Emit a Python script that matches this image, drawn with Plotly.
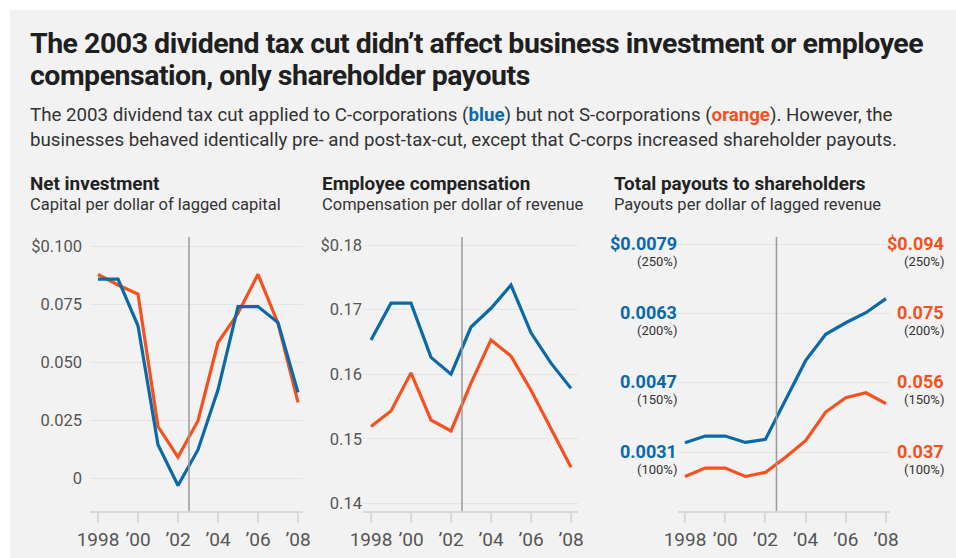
import plotly.graph_objects as go

# ---- data -------------------------------------------------------------
years = list(range(1998, 2009))
x_tickvals = [1998, 2000, 2002, 2004, 2006, 2008]
x_ticktext = ["1998", "\u201900", "\u201902", "\u201904", "\u201906", "\u201908"]

# Net investment, capital per dollar of lagged capital
invest_c = [0.0857, 0.0857, 0.0656, 0.0143, -0.0032, 0.0122, 0.0380, 0.0739, 0.0739, 0.0670, 0.0369]
invest_s = [0.0878, 0.0832, 0.0793, 0.0222, 0.0090, 0.0247, 0.0584, 0.0710, 0.0878, 0.0667, 0.0326]
invest_tickvals = [0, 0.025, 0.05, 0.075, 0.1]
invest_ticktext = ["0", "0.025", "0.050", "0.075", "$0.100"]

# Employee compensation per dollar of revenue
comp_c = [0.1653, 0.1710, 0.1710, 0.1626, 0.1600, 0.1673, 0.1702, 0.1738, 0.1664, 0.1617, 0.1578]
comp_s = [0.1519, 0.1543, 0.1602, 0.1529, 0.1512, 0.1586, 0.1653, 0.1628, 0.1575, 0.1516, 0.1456]
comp_tickvals = [0.14, 0.15, 0.16, 0.17, 0.18]
comp_ticktext = ["0.14", "0.15", "0.16", "0.17", "$0.18"]

# Total payouts to shareholders, indexed (percent of base level)
payout_c_pct = [106.9, 111.7, 111.7, 107.1, 109.3, 138.1, 166.0, 185.0, 193.3, 200.5, 210.7]
payout_s_pct = [82.6, 88.6, 88.6, 82.6, 85.5, 96.4, 108.3, 129.0, 139.3, 142.9, 135.0]
payout_tick_pct = [100, 150, 200, 250]
payout_c_labels = ["0.0031", "0.0047", "0.0063", "$0.0079"]
payout_s_labels = ["0.037", "0.056", "0.075", "$0.094"]

tax_cut_x = 2002.55

# ---- style ------------------------------------------------------------
W, H = 956, 558
BLUE = "#0b69a8"
ORANGE = "#f4511e"
FONT = "Roboto"
DARK = "#222222"
TICK = "#555555"
BG = "#f2f2f2"


def px(x):
    return x / W


def py(y):
    return 1 - y / H


fig = go.Figure()

panels = [
    ("x", "y", invest_c, invest_s),
    ("x2", "y2", comp_c, comp_s),
    ("x3", "y3", payout_c_pct, payout_s_pct),
]
for xa, ya, c_vals, s_vals in panels:
    fig.add_trace(go.Scatter(x=years, y=s_vals, xaxis=xa, yaxis=ya, mode="lines",
                             line=dict(color=ORANGE, width=3.2), hoverinfo="skip",
                             showlegend=False))
    fig.add_trace(go.Scatter(x=years, y=c_vals, xaxis=xa, yaxis=ya, mode="lines",
                             line=dict(color=BLUE, width=3.2), hoverinfo="skip",
                             showlegend=False))

y_dom = [py(511), py(237)]
x_common = dict(
    showgrid=False, zeroline=False, showline=True, linecolor="#d9d9d9", linewidth=2,
    ticks="outside", ticklen=10, tickwidth=2, tickcolor="#d9d9d9",
    tickvals=x_tickvals, ticktext=x_ticktext, automargin=False,
    tickfont=dict(family=FONT, size=19, color=TICK), fixedrange=True,
)
y_common = dict(
    showgrid=True, gridcolor="#e4e4e4", gridwidth=1, zeroline=False, showline=False,
    ticks="", tickfont=dict(family=FONT, size=16.5, color=TICK), fixedrange=True,
    domain=y_dom, automargin=False,
)

fig.update_layout(
    width=W, height=H, autosize=False,
    margin=dict(l=0, r=0, t=0, b=0, pad=0),
    paper_bgcolor="white", plot_bgcolor="rgba(0,0,0,0)",
    font=dict(family=FONT, color=DARK),
    xaxis=dict(domain=[px(90), px(303)], range=[1997.6, 2008.25], anchor="y", **x_common),
    xaxis2=dict(domain=[px(363), px(578)], range=[1997.6, 2008.35], anchor="y2", **x_common),
    xaxis3=dict(domain=[px(678), px(890)], range=[1997.65, 2008.2], anchor="y3", **x_common),
    yaxis=dict(range=[-0.01422, 0.10388], anchor="x", tickvals=invest_tickvals,
               ticktext=invest_ticktext, ticklabelstandoff=7, **y_common),
    yaxis2=dict(range=[0.13881, 0.18124], anchor="x2", tickvals=comp_tickvals,
                ticktext=comp_ticktext, ticklabelstandoff=0, **y_common),
    yaxis3=dict(range=[57.73, 255.04], anchor="x3", tickvals=payout_tick_pct,
                showticklabels=False, **y_common),
)

shapes = [
    dict(type="rect", xref="paper", yref="paper", x0=px(10), x1=1, y0=0, y1=py(10),
         fillcolor=BG, line=dict(width=0), layer="below"),
]
for xa in ["x", "x2", "x3"]:
    ya = xa.replace("x", "y")
    shapes.append(dict(type="line", xref=xa, yref=f"{ya} domain", x0=tax_cut_x, x1=tax_cut_x,
                       y0=0, y1=1, line=dict(color="#9a9a9a", width=1.5), layer="above"))
fig.update_layout(shapes=shapes)

ann = []


def text(x, y, s, size, color=DARK):
    ann.append(dict(xref="paper", yref="paper", x=px(x), y=py(y), text=s, showarrow=False,
                    xanchor="left", yanchor="middle", align="left",
                    font=dict(family=FONT, size=size, color=color)))


TIGHT = "letter-spacing:-0.5px"
text(28, 43, f"<b><span style='{TIGHT}'>The 2003 dividend tax cut didn\u2019t affect business "
     "investment or employee</span></b>", 28.5, "#1f1f1f")
text(28, 75, f"<b><span style='{TIGHT}'>compensation, only shareholder payouts</span></b>",
     28.5, "#1f1f1f")
text(28, 115, "The 2003 dividend tax cut applied to C-corporations "
     f"(<b><span style='color:{BLUE}'>blue</span></b>) but not S-corporations "
     f"(<b><span style='color:{ORANGE}'>orange</span></b>). However, the", 18.7, "#333333")
text(28, 139.5, "businesses behaved identically pre- and post-tax-cut, except that C-corps "
     "increased shareholder payouts.", 18.7, "#333333")

# panel headings: bold title over a lighter description, as one two-line block
panel_heads = [
    (28, "Net investment", "Capital per dollar of lagged capital"),
    (320, "Employee compensation", "Compensation per dollar of revenue"),
    (612, "Total payouts to shareholders", "Payouts per dollar of lagged revenue"),
]
for x0, head, sub in panel_heads:
    text(x0, 193.3,
         f"<span style='font-size:18.9px'><b>{head}</b></span><br>"
         f"<span style='font-size:16.5px;color:#333333'>{sub}</span>", 15.4)

# dual value labels for the indexed payouts panel
for pct, c_lab, s_lab in zip(payout_tick_pct, payout_c_labels, payout_s_labels):
    for xpos, lab, col in [(679, c_lab, BLUE), (946, s_lab, ORANGE)]:
        ann.append(dict(xref="paper", yref="y3", x=px(xpos), y=pct, text=f"<b>{lab}</b>",
                        showarrow=False, xanchor="right", yanchor="middle", yshift=1,
                        font=dict(family=FONT, size=18, color=col)))
        ann.append(dict(xref="paper", yref="y3", x=px(xpos), y=pct, text=f"({pct}%)",
                        showarrow=False, xanchor="right", yanchor="middle", yshift=-17,
                        font=dict(family=FONT, size=13, color="#333333")))

fig.update_layout(annotations=ann)

fig.write_html("out.html", config={"displayModeBar": False})
